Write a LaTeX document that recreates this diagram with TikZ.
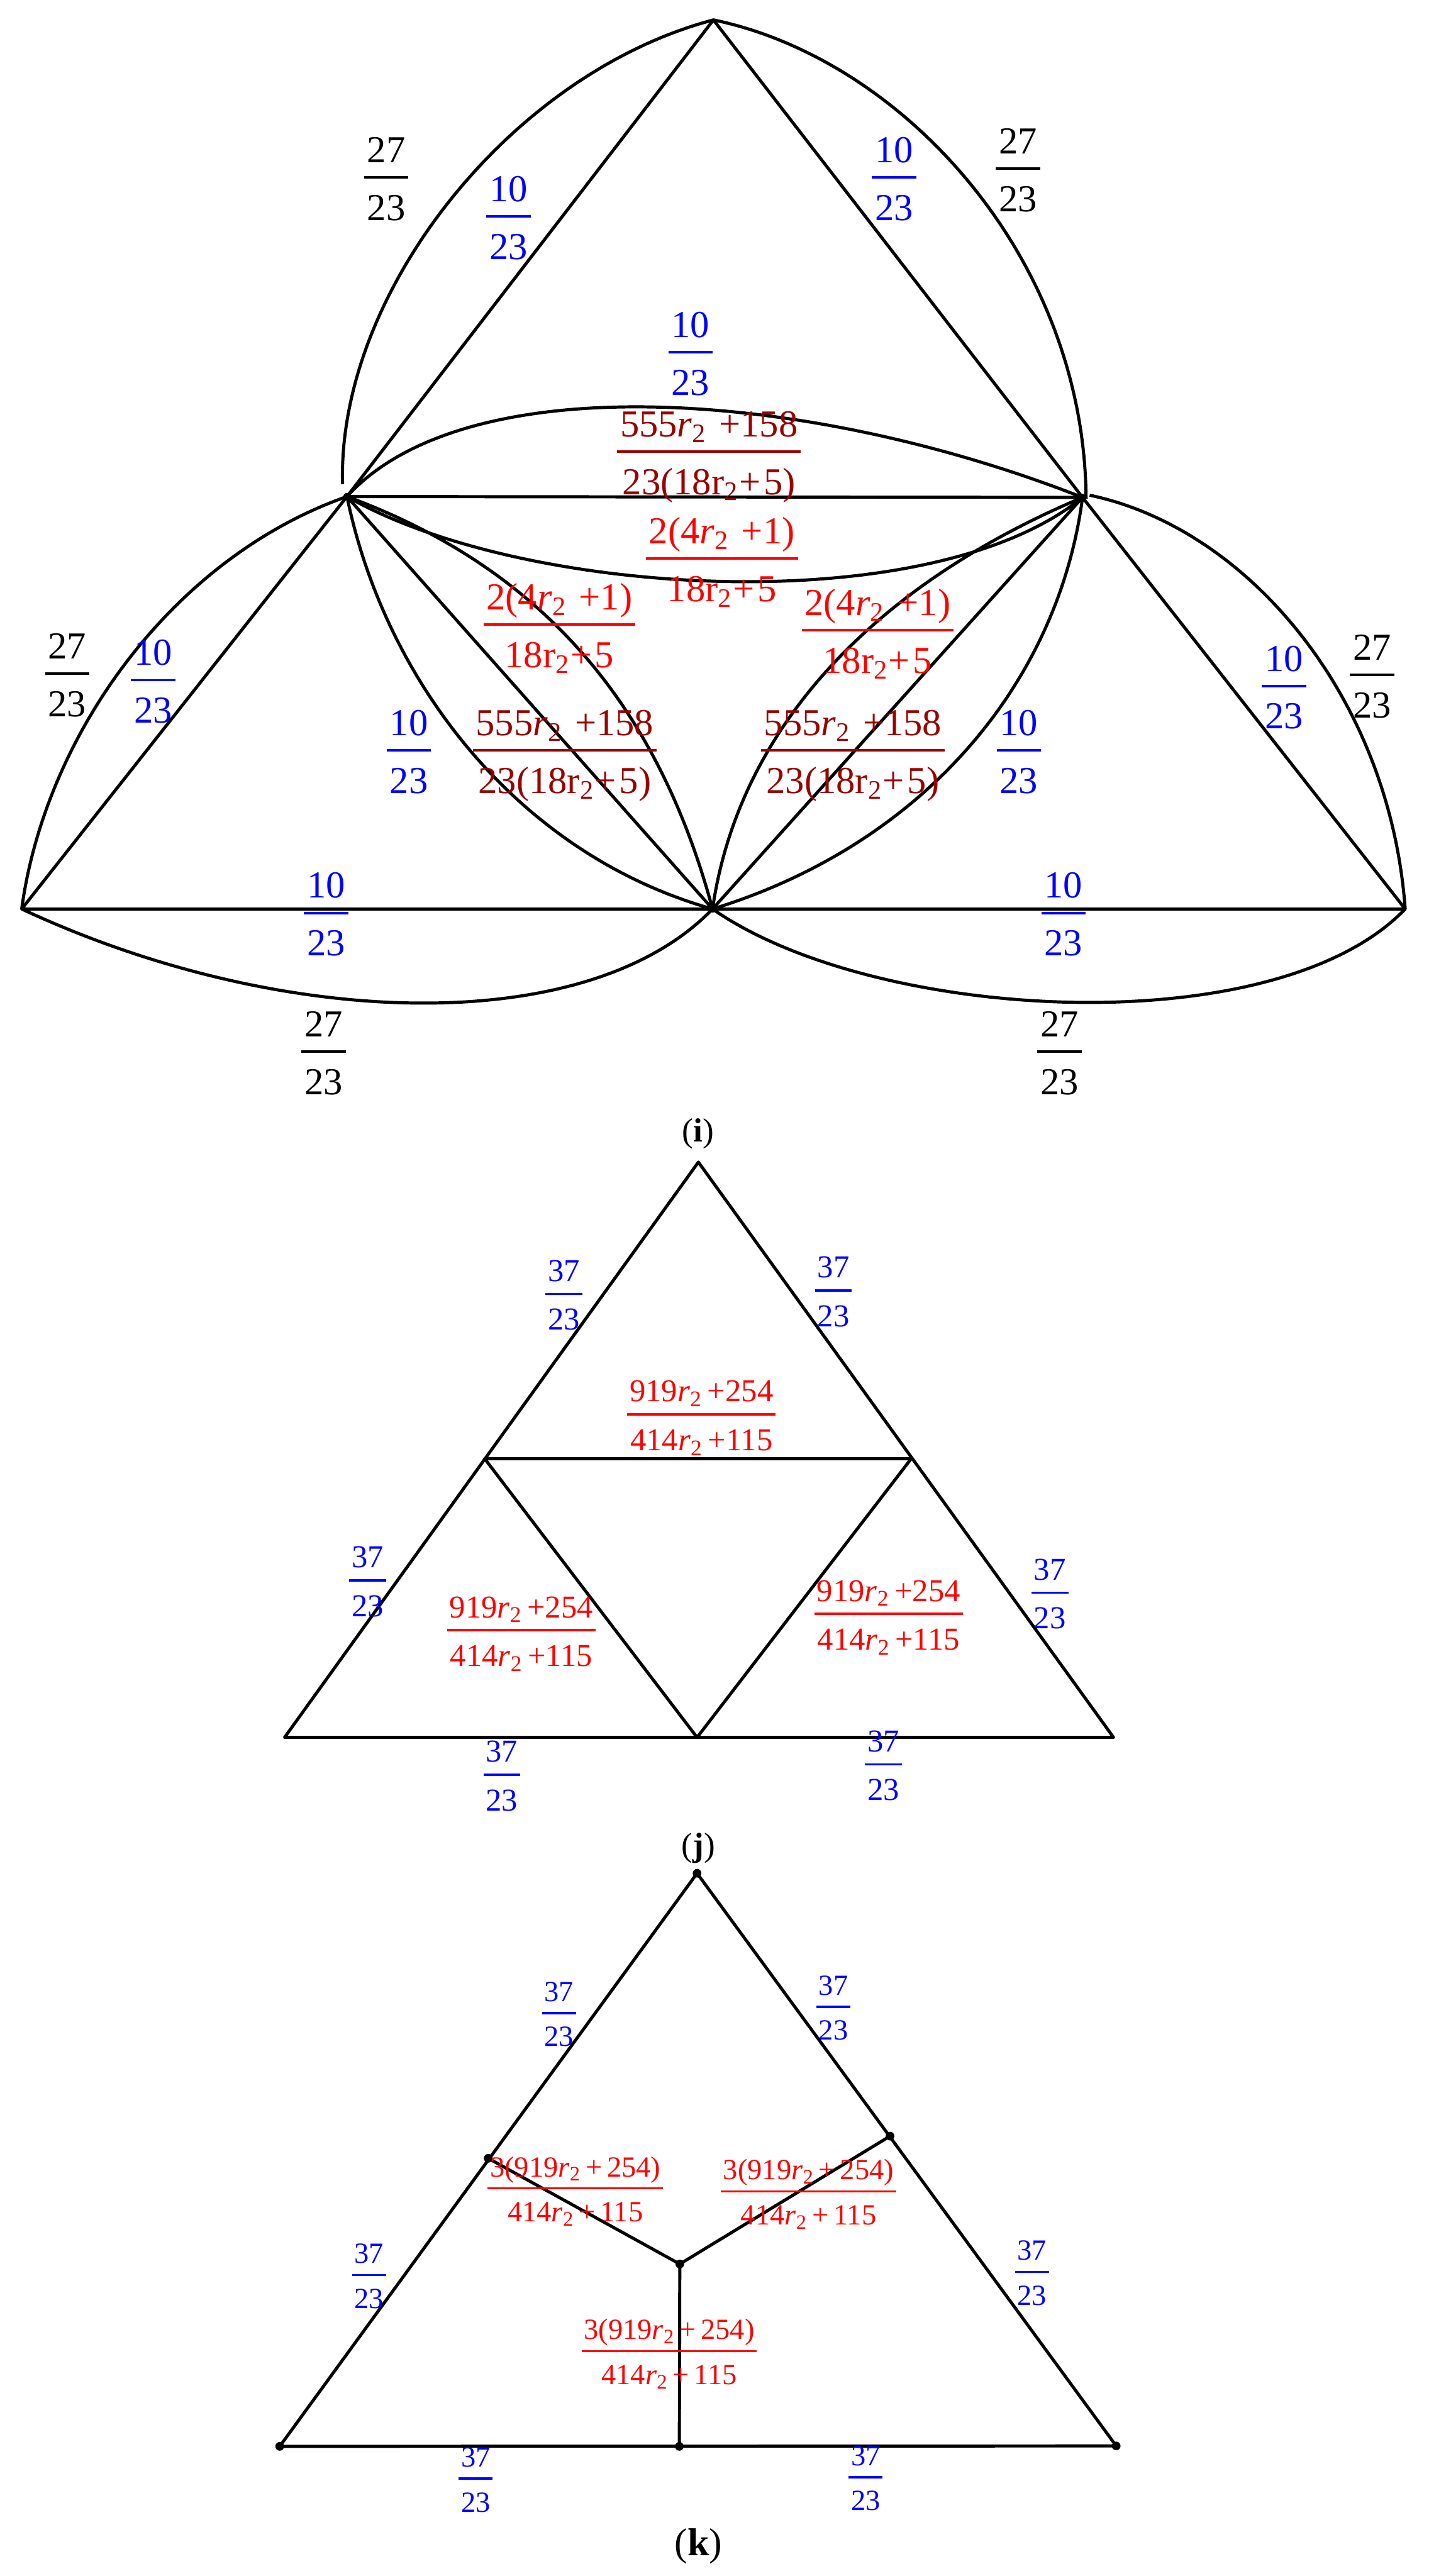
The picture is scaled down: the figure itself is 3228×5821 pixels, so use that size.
\documentclass[tikz,border=0pt]{standalone}
\usepackage{fontspec}
\setmainfont{Liberation Serif}
\definecolor{dkred}{RGB}{153,0,0}
\setlength{\arrayrulewidth}{1.5pt}
\newcommand{\frc}[2]{\begin{tabular}{@{\hspace{.08em}}c@{\hspace{.08em}}}\rule{0pt}{1.096em}#1\\\hline\rule{0pt}{1.096em}#2\end{tabular}}
\newcommand{\rit}{\textit{r}\textsubscript{2}}
\newcommand{\rup}{r\textsubscript{2}}
\newcommand{\ftt}{\frc{27}{23}}
\newcommand{\fot}{\frc{10}{23}}
\newcommand{\fts}{\frc{37}{23}}
\newcommand{\fdk}{\frc{555\rit\,\,+158}{23(18\rup\kern.02em+\kern.08em5)}}
\newcommand{\frd}{\frc{2(4\rit\,\,+1)}{18\rup\kern.02em+\kern.08em5}}
\newcommand{\fnn}{\frc{919\rit\,+254}{414\rit\,+115}}
\newcommand{\fth}{\frc{3(919\rit\,+\,254)}{414\rit\,+\,115}}
\tikzset{
  big/.style={inner sep=0pt,font=\fontsize{24.5}{29.4}\selectfont},
  mid/.style={inner sep=0pt,font=\fontsize{20.5}{24.6}\selectfont},
  low/.style={inner sep=0pt,font=\fontsize{18.8}{22.6}\selectfont},
  capt/.style={inner sep=0pt,font=\fontsize{21.5}{26}\selectfont},
  dot/.style={circle,fill=black,inner sep=0pt,minimum size=4.6pt},
  dotk/.style={circle,fill=black,inner sep=0pt,minimum size=5.6pt},
  edge/.style={line width=2pt,line join=round}
}
\begin{document}
\begin{tikzpicture}[x=0.01cm,y=-0.01cm]
    \useasboundingbox (0,0) rectangle (3228,5821);

    % (i)
    \coordinate (top) at (1612,45);
    \node[dot] (lm) at (784,1122) {};
    \node[dot] (rm) at (2446,1124) {};
    \node[dot] (bm) at (1610,2054) {};
    \coordinate (bl) at (49,2054);
    \coordinate (br) at (3175,2054);
    \coordinate (lgap) at (774,1094);
    \coordinate (rgap) at (2462,1119);
    \coordinate (rtop) at (2454,1127);

    \draw[edge] (top)--(lm.center)--(bl)--(br)--(rm.center)--cycle;
    \draw[edge] (lm.center)--(rm.center);
    \draw[edge] (lm.center)--(bm.center)--(rm.center);

    \draw[edge] (lgap) .. controls (762,663) and (1153,166) .. (top);
    \draw[edge] (top) .. controls (2038,133) and (2450,580) .. (rtop);
    \draw[edge] (rgap) .. controls (2820,1194) and (3140,1575) .. (br);
    \draw[edge] (lm.center) .. controls (391,1260) and (103,1658) .. (bl);
    \draw[edge] (bl) .. controls (640,2330) and (1330,2345) .. (bm.center);
    \draw[edge] (bm.center) .. controls (1976,2310) and (2882,2360) .. (br);
    \draw[edge] (lm.center) .. controls (1050,829) and (1812,875) .. (rm.center);
    \draw[edge] (lm.center) .. controls (1180,1350) and (2100,1405) .. (rm.center);
    \draw[edge] (lm.center) .. controls (1240,1290) and (1490,1610) .. (bm.center);
    \draw[edge] (lm.center) .. controls (870,1540) and (1170,1930) .. (bm.center);
    \draw[edge] (bm.center) .. controls (1670,1640) and (1980,1320) .. (rm.center);
    \draw[edge] (bm.center) .. controls (2080,1910) and (2390,1550) .. (rm.center);

    \node[big] (a1) at (873,401) {\ftt};
    \node[big] (a2) at (2300,381) {\ftt};
    \node[big] (a3) at (152,1522) {\ftt};
    \node[big] (a4) at (3100,1525) {\ftt};
    \node[big] (a5) at (731,2376) {\ftt};
    \node[big] (a6) at (2394,2376) {\ftt};

    \node[big,text=blue] (b1) at (1149,489) {\fot};
    \node[big,text=blue] (b2) at (2020,401) {\fot};
    \node[big,text=blue] (b3) at (1560,796) {\fot};
    \node[big,text=blue] (b4) at (346,1537) {\fot};
    \node[big,text=blue] (b5) at (924,1695) {\fot};
    \node[big,text=blue] (b6) at (2302,1695) {\fot};
    \node[big,text=blue] (b7) at (2901,1550) {\fot};
    \node[big,text=blue] (b8) at (737,2063) {\fot};
    \node[big,text=blue] (b9) at (2403,2063) {\fot};

    \node[big,text=dkred] (c1) at (1602,1020) {\fdk};
    \node[big,text=dkred] (c2) at (1276,1695) {\fdk};
    \node[big,text=dkred] (c3) at (1927,1695) {\fdk};

    \node[big,text=red] (d1) at (1631,1262) {\frd};
    \node[big,text=red] (d2) at (1264,1411) {\frd};
    \node[big,text=red] (d3) at (1983,1424) {\frd};

    \node[capt] (capi) at (1577,2562) {(\textbf{i})};

    % (j)
    \coordinate (jtop) at (1578,2626);
    \coordinate (jlm) at (1095,3296);
    \coordinate (jrm) at (2059,3296);
    \coordinate (jbl) at (643,3926);
    \coordinate (jbm) at (1575,3926);
    \coordinate (jbr) at (2516,3926);

    \draw[edge] (jtop)--(jbl)--(jbr)--cycle;
    \draw[edge] (jlm)--(jrm)--(jbm)--cycle;

    \node[mid,text=blue] (e1) at (1274,2924) {\fts};
    \node[mid,text=blue] (e2) at (1883,2916) {\fts};
    \node[mid,text=blue] (e3) at (831,3571) {\fts};
    \node[mid,text=blue] (e4) at (2372,3599) {\fts};
    \node[mid,text=blue] (e5) at (1134,4010) {\fts};
    \node[mid,text=blue] (e6) at (1996,3987) {\fts};

    \node[mid,text=red] (f1) at (1585,3196) {\fnn};
    \node[mid,text=red] (f2) at (1178,3684) {\fnn};
    \node[mid,text=red] (f3) at (2008,3647) {\fnn};

    \node[capt] (capj) at (1578,4176) {(\textbf{j})};

    % (k)
    \node[dotk] (ktop) at (1575,4233) {};
    \node[dotk] (kl) at (1103,4877) {};
    \node[dotk] (kr) at (2011,4827) {};
    \node[dotk] (kc) at (1536,5116) {};
    \node[dotk] (kb) at (1535,5528) {};
    \node[dotk] (kbl) at (632,5528) {};
    \node[dotk] (kbr) at (2522,5527) {};

    \draw[edge] (ktop.center)--(kbl.center)--(kbr.center)--cycle;
    \draw[edge] (kl.center)--(kc.center)--(kr.center);
    \draw[edge] (kc.center)--(kb.center);

    \node[low,text=blue] (g1) at (1263,4549) {\fts};
    \node[low,text=blue] (g2) at (1883,4535) {\fts};
    \node[low,text=blue] (g3) at (834,5141) {\fts};
    \node[low,text=blue] (g4) at (2332,5134) {\fts};
    \node[low,text=blue] (g5) at (1075,5601) {\fts};
    \node[low,text=blue] (g6) at (1956,5598) {\fts};

    \node[low,text=red] (h1) at (1300,4945) {\fth};
    \node[low,text=red] (h2) at (1827,4952) {\fth};
    \node[low,text=red] (h3) at (1512,5313) {\fth};

    \node[capt,font=\fontsize{25}{30}\selectfont] (capk) at (1578,5754) {(\textbf{k})};
\end{tikzpicture}
\end{document}
